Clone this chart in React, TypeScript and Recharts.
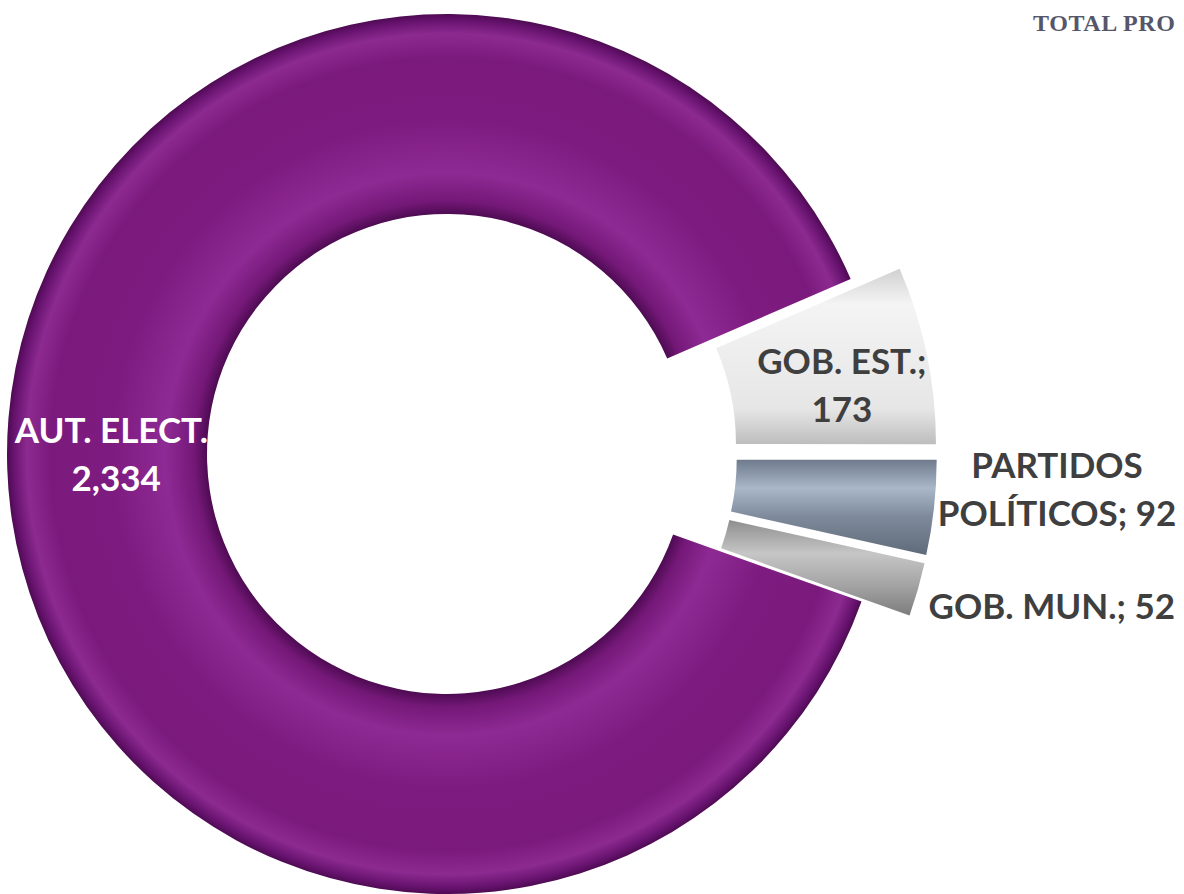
import React from 'react';
import { PieChart, Pie, Cell } from 'recharts';

// ---- data ----
const categories = ['AUT. ELECT.', 'GOB. EST.', 'PARTIDOS POLÍTICOS', 'GOB. MUN.'];
const values = [2334, 173, 92, 52];
const labelTexts = [
  ['AUT. ELECT.;', '2,334'],
  ['GOB. EST.;', '173'],
  ['PARTIDOS', 'POLÍTICOS; 92'],
  ['GOB. MUN.; 52'],
];
const titleText = 'TOTAL PRO';

const data = categories.map((name, i) => ({ name, value: values[i] }));
const total = values.reduce((a, b) => a + b, 0);

// ---- layout / style ----
const W = 1184;
const H = 894;
const CX = 447;
const CY = 454;
const R_IN = 240;
const R_OUT = 440;
const START = -19.6;
const END = START - 360;
const EXPLODE = [0, 50, 50, 50];
const FILLS = ['url(#gAut)', 'url(#gEst)', 'url(#gPart)', 'url(#gMun)'];
const LABEL_COLORS = ['#FFFFFF', '#3F3F3F', '#3F3F3F', '#3F3F3F'];
const LABEL_MODE = ['mid', 'mid', 'out', 'out'];
const LABEL_OFFSET = [
  [9, -12],
  [13, 9],
  [123, -20],
  [134, 15],
];
const LINE_GAP = 48;
const FONT = 'Lato, "Open Sans", sans-serif';
const RAD = Math.PI / 180;

const midAngles = (() => {
  let cum = 0;
  return values.map((v) => {
    const m = START + ((cum + v / 2) / total) * (END - START);
    cum += v;
    return m;
  });
})();

const renderLabel = (p: any, k: number) => {
  if (p.index !== k) return null;
  const cx = Number(p.cx);
  const cy = Number(p.cy);
  const a = (p.midAngle ?? midAngles[k]) * RAD;
  const r = LABEL_MODE[k] === 'mid' ? (R_IN + R_OUT) / 2 : R_OUT;
  const x = cx + r * Math.cos(-a) + LABEL_OFFSET[k][0];
  const y = cy + r * Math.sin(-a) + LABEL_OFFSET[k][1];
  const lines = labelTexts[k];
  const y0 = y - ((lines.length - 1) * LINE_GAP) / 2;
  return (
    <g>
      {lines.map((t, j) => (
        <text
          key={j}
          x={x}
          y={y0 + j * LINE_GAP}
          textAnchor="middle"
          dominantBaseline="central"
          fill={LABEL_COLORS[k]}
          style={{ fontFamily: FONT, fontWeight: 700, fontSize: 35 }}
        >
          {t}
        </text>
      ))}
    </g>
  );
};

export default function App() {
  return (
    <div
      style={{
        position: 'absolute',
        left: 0,
        top: 0,
        width: W,
        height: H,
        overflow: 'hidden',
        background: '#FFFFFF',
      }}
    >
      <div
        style={{
          position: 'absolute',
          left: 1033,
          top: 10,
          whiteSpace: 'nowrap',
          fontFamily: '"Liberation Serif", "DejaVu Serif", serif',
          fontWeight: 700,
          fontSize: 24,
          letterSpacing: 0.6,
          color: '#56566A',
        }}
      >
        {titleText}
      </div>
      <PieChart width={W} height={H} margin={{ top: 0, right: 0, bottom: 0, left: 0 }}>
        <defs>
          <radialGradient id="gAut" gradientUnits="userSpaceOnUse" cx={CX} cy={CY} r={R_OUT}>
            <stop offset={R_IN / R_OUT} stopColor="#4E0B52" />
            <stop offset={R_IN / R_OUT + 0.03} stopColor="#741878" />
            <stop offset={0.64} stopColor="#8E2A94" />
            <stop offset={0.76} stopColor="#7E1B80" />
            <stop offset={0.9} stopColor="#7B1A7D" />
            <stop offset={0.955} stopColor="#8C2A90" />
            <stop offset={0.985} stopColor="#681370" />
            <stop offset={1} stopColor="#4E0B52" />
          </radialGradient>
          <linearGradient id="gEst" x1="0" y1="0" x2="0" y2="1">
            <stop offset="0" stopColor="#D0D0D0" />
            <stop offset="0.2" stopColor="#F4F4F4" />
            <stop offset="0.8" stopColor="#E6E6E6" />
            <stop offset="1" stopColor="#BDBDBD" />
          </linearGradient>
          <linearGradient id="gPart" x1="0" y1="0" x2="0" y2="1">
            <stop offset="0" stopColor="#6F7B8C" />
            <stop offset="0.3" stopColor="#A9B7C8" />
            <stop offset="0.6" stopColor="#7E8A9B" />
            <stop offset="1" stopColor="#5F6A79" />
          </linearGradient>
          <linearGradient id="gMun" x1="0" y1="0" x2="0" y2="1">
            <stop offset="0" stopColor="#8E8E8E" />
            <stop offset="0.35" stopColor="#C6C6C6" />
            <stop offset="0.7" stopColor="#A2A2A2" />
            <stop offset="1" stopColor="#7C7C7C" />
          </linearGradient>
        </defs>
        {values.map((_, k) => {
          const a = midAngles[k] * RAD;
          const dx = EXPLODE[k] * Math.cos(-a);
          const dy = EXPLODE[k] * Math.sin(-a);
          return (
            <Pie
              key={k}
              data={data}
              dataKey="value"
              nameKey="name"
              cx={CX + dx}
              cy={CY + dy}
              innerRadius={R_IN}
              outerRadius={R_OUT}
              startAngle={START}
              endAngle={END}
              stroke="none"
              isAnimationActive={false}
              labelLine={false}
              label={(p: any) => renderLabel(p, k)}
            >
              {data.map((d, i) => (
                <Cell key={d.name} fill={i === k ? FILLS[k] : 'none'} stroke="none" />
              ))}
            </Pie>
          );
        })}
      </PieChart>
    </div>
  );
}
